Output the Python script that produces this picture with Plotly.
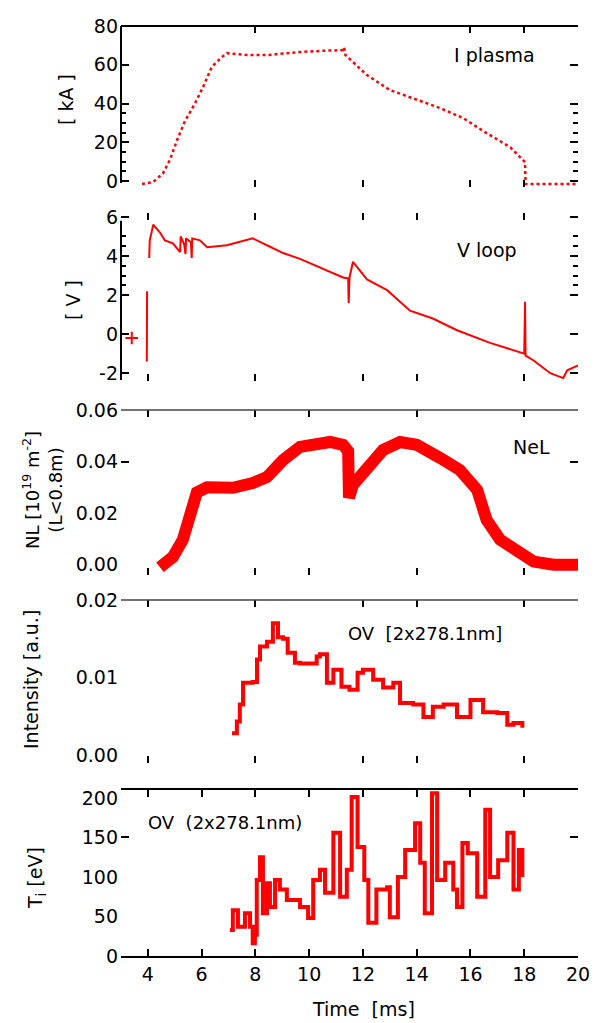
import plotly.graph_objects as go

# ---------------- data ----------------
time_range = [3, 20]

# I plasma [kA]
ip_t = [3.78, 4.19, 4.56, 4.82, 5.08, 5.38, 5.75, 6.05, 6.38, 6.75, 6.94, 7.7, 8.43, 9.66, 10.5,
        11.26, 11.3, 11.35, 11.63, 12.15, 13.0, 13.64, 14.87, 15.73, 16.6, 17.48, 18.03, 18.05, 20.0]
ip_v = [-1.5, -0.5, 4, 11, 21, 31, 40, 48.5, 59, 64, 66, 65, 65, 66.6, 67.2,
        67.6, 69, 65, 61.4, 54.7, 47, 43.9, 37.7, 32.5, 24.8, 17.5, 9.8, -1.5, -1.5]

# V loop [V]
vl_start_t = [3.4]
vl_start_v = [-0.2]
vl_t = [3.96, 3.97, None, 4.05, 4.07, 4.2, 4.45, 4.63, 4.93, 5.2, 5.22, 5.35, 5.4, 5.42, 5.6, 5.63, 5.65,
        5.94, 6.2, 6.94, 7.69, 7.9, 8.43, 9.03, 9.66, 10.4, 11.26, 11.45, 11.47, 11.5, 11.63, 12.15,
        12.9, 13.75, 14.6, 15.5, 16.73, 18.0, 18.03, 18.05, 18.35, 18.97, 19.45, 19.6, 20.0]
vl_v = [-1.4, 2.2, None, 3.9, 4.8, 5.6, 5.2, 4.8, 4.65, 4.2, 5.0, 4.6, 4.1, 4.9, 4.7, 3.9, 4.9,
        4.8, 4.45, 4.55, 4.8, 4.9, 4.55, 4.15, 3.85, 3.4, 2.9, 2.85, 1.6, 2.9, 3.7, 2.8,
        2.25, 1.2, 0.8, 0.2, -0.45, -1.0, 1.65, -1.1, -1.35, -2.0, -2.25, -1.85, -1.6]

# NeL
ne_t = [4.45, 4.93, 5.3, 5.56, 5.82, 6.2, 7.16, 7.9, 8.43, 9.03, 9.66, 10.78, 11.26, 11.45, 11.48,
        11.63, 12.15, 12.75, 13.38, 14.0, 14.87, 15.6, 16.25, 16.6, 17.1, 17.74, 18.35, 19.1, 20.0]
ne_v = [-0.001, 0.003, 0.0097, 0.021, 0.028, 0.030, 0.0298, 0.0317, 0.034, 0.0406, 0.0457, 0.0476,
        0.0465, 0.044, 0.026, 0.031, 0.038, 0.0445, 0.0476, 0.0465, 0.0414, 0.0368, 0.029, 0.0174,
        0.0097, 0.0046, 0.0012, 0.0, 0.0]

# OV intensity [a.u.]
in_t = [7.13, 7.31, 7.42, 7.54, 7.9, 8.06, 8.17, 8.43, 8.65, 8.84, 9.03, 9.2, 9.47, 9.66, 10.03,
        10.28, 10.4, 10.66, 10.9, 11.2, 11.5, 11.8, 12.0, 12.38, 12.75, 13.13, 13.38, 13.87, 14.25,
        14.6, 15.0, 15.5, 16.0, 16.47, 17.0, 17.37, 17.6, 17.93]
in_v = [0.0028, 0.0043, 0.0065, 0.0093, 0.0094, 0.0123, 0.014, 0.0146, 0.0170, 0.0152, 0.015,
        0.0132, 0.0119, 0.0118, 0.0118, 0.0127, 0.013, 0.0093, 0.011, 0.0088, 0.0084, 0.0106, 0.011,
        0.0097, 0.0087, 0.0093, 0.0067, 0.0065, 0.0049, 0.0062, 0.0065, 0.0049, 0.0071, 0.0055,
        0.0054, 0.0039, 0.0041, 0.0035]

# Ti [eV]
ti_t = [7.05, 7.16, 7.35, 7.61, 7.8, 7.9, 7.98, 8.05, 8.17, 8.28, 8.43, 8.54, 8.73, 8.91, 9.17,
        9.66, 9.96, 10.15, 10.4, 10.59, 10.9, 11.15, 11.4, 11.58, 11.8, 12.05, 12.2, 12.5, 12.9,
        13.0, 13.3, 13.57, 13.94, 14.13, 14.3, 14.57, 14.76, 15.06, 15.36, 15.5, 15.7, 15.9, 16.25,
        16.55, 16.73, 17.03, 17.37, 17.6, 17.8, 17.93]
ti_v = [33, 58, 37, 54, 37, 16, 27, 96, 125, 54, 92, 62, 96, 84, 71,
        62, 48, 96, 109, 80, 156, 75, 109, 201, 138, 96, 42, 84, 87,
        49, 100, 134, 168, 118, 54, 206, 96, 118, 84, 62, 143, 130, 75,
        185, 100, 121, 156, 84, 134, 100]

# tick labels
ip_ticks = [0, 20, 40, 60, 80]
vl_ticks = [-2, 0, 2, 4, 6]
ne_ticks = [0.0, 0.02, 0.04, 0.06]
in_ticks = [0.0, 0.01, 0.02]
ti_ticks = [0, 50, 100, 150, 200]
time_ticks = [4, 6, 8, 10, 12, 14, 16, 18, 20]

# ---------------- layout helpers ----------------
OFF = 8                      # page body margin of the browser
WF, HF = 601 - OFF, 1023 - OFF
PL, PR = 121, 578            # plot edges in window pixels
RED = "#ff0000"
FONT = "DejaVu Sans"
TF = 19
CLEAR = "rgba(255,255,255,0)"


def pyc(p):
    return (HF - (p - OFF)) / HF


def pxc(p):
    return (p - PL) / (PR - PL)


def nudge(vals, eps):
    # minor ticks that sit exactly on a labelled value are dropped by plotly; shift them sub-pixel
    return [v + eps for v in vals]


fig = go.Figure()
fig.add_trace(go.Scatter(x=ip_t, y=ip_v, mode="lines", line=dict(color=RED, width=2.5, dash="dot"),
                         xaxis="x", yaxis="y", showlegend=False))
fig.add_trace(go.Scatter(x=vl_start_t, y=vl_start_v, mode="markers",
                         marker=dict(symbol="cross-thin", size=9, line=dict(color=RED, width=2)),
                         xaxis="x2", yaxis="y2", showlegend=False))
fig.add_trace(go.Scatter(x=vl_t, y=vl_v, mode="lines", line=dict(color=RED, width=2),
                         connectgaps=False, xaxis="x2", yaxis="y2", showlegend=False))
fig.add_trace(go.Scatter(x=ne_t, y=ne_v, mode="lines", line=dict(color=RED, width=12),
                         xaxis="x3", yaxis="y3", showlegend=False))
fig.add_trace(go.Scatter(x=in_t, y=in_v, mode="lines", line=dict(color=RED, width=4, shape="hv"),
                         xaxis="x4", yaxis="y4", showlegend=False))
fig.add_trace(go.Scatter(x=ti_t, y=ti_v, mode="lines", line=dict(color=RED, width=4, shape="hv"),
                         xaxis="x5", yaxis="y5", showlegend=False))

panels = [  # (pixel bottom, pixel top, y range, tick values, tick texts, minor y ticks, x tick vals)
    (187, 26, [-3, 80], ip_ticks, [str(v) for v in ip_ticks], [5, 10, 15, 25, 30, 35], [8, 12, 16, 18]),
    (381, 213, [-2.4, 6.2], vl_ticks, [str(v) for v in vl_ticks], [2.5, 3, 3.5, 4.5, 5], [4, 8, 12, 14, 18]),
    (575, 410, [-0.004, 0.06], ne_ticks, ["%.2f" % v for v in ne_ticks], nudge([0.04], 1e-5), [4, 8, 10, 14, 18]),
    (763, 600, [-0.00105, 0.02], in_ticks, ["%.2f" % v for v in in_ticks], [], [4, 8, 12, 14, 18]),
    (956, 790, [0, 210], ti_ticks, [str(v) for v in ti_ticks], nudge([150], 0.05), time_ticks),
]
major_y_ticks = [True, True, False, False, False]

layout = dict(
    width=WF, height=HF, paper_bgcolor="white", plot_bgcolor="white",
    margin=dict(l=PL - OFF, r=WF - (PR - OFF), t=0, b=0, autoexpand=False),
    font=dict(family=FONT, size=18, color="black"),
    showlegend=False,
)
for i, (pb, pt, yr, tv, tt, mt, xt) in enumerate(panels, start=1):
    sfx = "" if i == 1 else str(i)
    xa = dict(
        domain=[0, 1], range=time_range, anchor="y" + sfx, showline=(i == 5), linewidth=2, linecolor="black",
        showgrid=False, zeroline=False, tickmode="array", tickvals=xt, ticks="inside", ticklen=7,
        tickwidth=2, tickcolor="black", mirror="ticks", automargin=False,
    )
    if i == 5:
        xa.update(ticktext=[str(v) for v in xt], showticklabels=True, tickfont=dict(size=TF))
    else:
        xa.update(showticklabels=False)
    layout["xaxis" + sfx] = xa
    ya = dict(
        domain=[pyc(pb), pyc(pt)], range=yr, anchor="x" + sfx, showline=False, showgrid=False,
        zeroline=False, tickmode="array", tickvals=tv, ticktext=tt,
        ticks="inside", ticklen=8 if major_y_ticks[i - 1] else 1,
        tickwidth=2, tickcolor="black" if major_y_ticks[i - 1] else CLEAR,
        mirror="ticks", tickfont=dict(size=TF), ticklabelstandoff=2, automargin=False,
    )
    if mt:
        ya["minor"] = dict(tickmode="array", tickvals=mt, ticks="inside", ticklen=5 if i < 3 else 8,
                           tickwidth=2, tickcolor="black")
    layout["yaxis" + sfx] = ya

shapes = [
    dict(type="line", xref="x domain", yref="y domain", x0=0, x1=1, y0=1, y1=1, line=dict(color="black", width=2)),
    dict(type="line", xref="x domain", yref="y", x0=0, x1=0, y0=-1, y1=80, line=dict(color="black", width=2)),
    dict(type="line", xref="x2 domain", yref="y2", x0=0, x1=0, y0=-2.35, y1=5.8, line=dict(color="black", width=2)),
    dict(type="line", xref="x3 domain", yref="y3 domain", x0=0, x1=1, y0=1, y1=1, line=dict(color="#444", width=1.5)),
    dict(type="line", xref="x4 domain", yref="y4 domain", x0=0, x1=1, y0=1, y1=1, line=dict(color="#444", width=1.5)),
]
layout["shapes"] = shapes


def ann(text, px, py_, xanchor="left", angle=0, size=18):
    return dict(text=text, xref="paper", yref="paper", x=pxc(px), y=pyc(py_), xanchor=xanchor,
                yanchor="middle", showarrow=False, textangle=angle, font=dict(size=size, family=FONT))


layout["annotations"] = [
    ann("I plasma", 452, 55, size=19),
    ann("V loop", 455, 250, size=19),
    ann("NeL", 511, 447, size=19),
    ann("OV  [2x278.1nm]", 346, 633),
    ann("OV  (2x278.1nm)", 146, 822),
    ann("[ kA ]", 66, 100, "center", -90, 19),
    ann("[ V ]", 73, 300, "center", -90, 19),
    ann("NL [10<sup>19</sup> m<sup>-2</sup>]<br>(L<0.8m)", 42, 490, "center", -90),
    ann("Intensity [a.u.]", 31, 680, "center", -90, 19),
    ann("T<sub>i</sub> [eV]", 36, 878, "center", -90, 19),
    ann("Time  [ms]", 363, 1009, "center", size=19),
]

fig.update_layout(**layout)
fig.write_html("out.html")
